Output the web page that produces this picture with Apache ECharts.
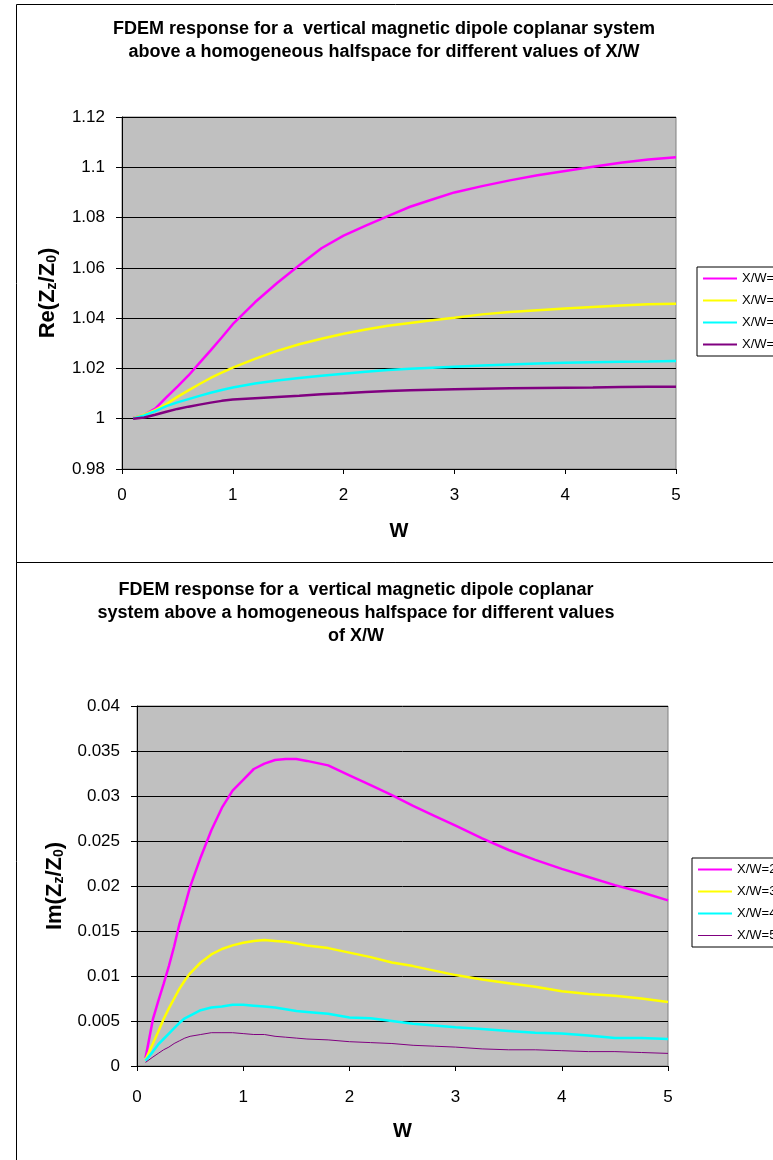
<!DOCTYPE html>
<html>
<head>
<meta charset="utf-8">
<script src="https://cdn.jsdelivr.net/npm/echarts@6/dist/echarts.min.js"></script>
<style>
  html, body { margin: 0; padding: 0; background: #fff; }
  #chart { width: 773px; height: 1160px; }
</style>
</head>
<body>
<div id="chart"></div>
<script>
// FDEM response of a vertical magnetic dipole, coplanar coil system,
// over a homogeneous halfspace: real (top) and imaginary (bottom) parts.

const seriesNames = ['X/W=2', 'X/W=3', 'X/W=4', 'X/W=5'];

// Real part Re(Zz/Z0) versus W
const reW = [0.1, 0.2, 0.3, 0.4, 0.5, 0.6, 0.7, 0.8, 0.9, 1.0, 1.2, 1.4, 1.6, 1.8, 2.0,
             2.2, 2.4, 2.6, 2.8, 3.0, 3.25, 3.5, 3.75, 4.0, 4.25, 4.5, 4.75, 5.0];
const reXW2 = [1.0003, 1.0015, 1.0040, 1.0085, 1.0128, 1.0172, 1.0222, 1.0272, 1.0323, 1.0376,
               1.0463, 1.0540, 1.0610, 1.0678, 1.0728, 1.0768, 1.0806, 1.0843, 1.0872, 1.0900,
               1.0925, 1.0948, 1.0968, 1.0985, 1.1002, 1.1018, 1.1031, 1.1040];
const reXW3 = [1.0002, 1.0016, 1.0034, 1.0058, 1.0087, 1.0113, 1.0138, 1.0162, 1.0183, 1.0203,
               1.0238, 1.0270, 1.0296, 1.0318, 1.0338, 1.0355, 1.0370, 1.0381, 1.0392, 1.0402,
               1.0415, 1.0424, 1.0431, 1.0438, 1.0444, 1.0450, 1.0455, 1.0457];
const reXW4 = [1.0001, 1.0013, 1.0030, 1.0050, 1.0065, 1.0078, 1.0091, 1.0103, 1.0114, 1.0124,
               1.0140, 1.0152, 1.0162, 1.0171, 1.0179, 1.0187, 1.0194, 1.0199, 1.0203, 1.0207,
               1.0212, 1.0216, 1.0220, 1.0223, 1.0225, 1.0227, 1.0228, 1.0230];
const reXW5 = [1.0000, 1.0005, 1.0016, 1.0028, 1.0039, 1.0048, 1.0056, 1.0064, 1.0071, 1.0076,
               1.0081, 1.0086, 1.0091, 1.0097, 1.0101, 1.0106, 1.0110, 1.0113, 1.0115, 1.0117,
               1.0119, 1.0121, 1.0122, 1.0123, 1.0124, 1.0126, 1.0127, 1.0127];

// Imaginary part Im(Zz/Z0) versus W
const imW = [0.08, 0.15, 0.2, 0.25, 0.3, 0.35, 0.4, 0.45, 0.5, 0.6, 0.7, 0.8, 0.9, 1.0, 1.1,
             1.2, 1.3, 1.4, 1.5, 1.6, 1.8, 2.0, 2.2, 2.4, 2.6, 2.8, 3.0, 3.25, 3.5, 3.75,
             4.0, 4.25, 4.5, 4.75, 5.0];
const imXW2 = [0.0009, 0.0052, 0.0072, 0.0091, 0.0111, 0.0133, 0.0158, 0.0178, 0.0199, 0.0232,
               0.0262, 0.0287, 0.0306, 0.0318, 0.0330, 0.0336, 0.0340, 0.0341, 0.0341, 0.0339,
               0.0334, 0.0323, 0.0312, 0.0301, 0.0289, 0.0278, 0.0267, 0.0253, 0.0240, 0.0229,
               0.0219, 0.0210, 0.0201, 0.0193, 0.0184];
const imXW3 = [0.0007, 0.0025, 0.0038, 0.0052, 0.0064, 0.0075, 0.0086, 0.0095, 0.0103, 0.0115,
               0.0124, 0.0130, 0.0134, 0.0137, 0.0139, 0.0140, 0.0139, 0.0138, 0.0136, 0.0134,
               0.0131, 0.0126, 0.0121, 0.0115, 0.0111, 0.0106, 0.0101, 0.0096, 0.0092, 0.0088,
               0.0083, 0.0080, 0.0078, 0.0075, 0.0071];
const imXW4 = [0.0006, 0.0016, 0.0024, 0.0030, 0.0036, 0.0042, 0.0048, 0.0053, 0.0056, 0.0062,
               0.0065, 0.0066, 0.0068, 0.0068, 0.0067, 0.0066, 0.0065, 0.0063, 0.0061, 0.0060,
               0.0058, 0.0054, 0.0053, 0.0050, 0.0047, 0.0045, 0.0043, 0.0041, 0.0039, 0.0037,
               0.0036, 0.0034, 0.0031, 0.0031, 0.0030];
const imXW5 = [0.0004, 0.0010, 0.0014, 0.0018, 0.0021, 0.0025, 0.0028, 0.0031, 0.0033, 0.0035,
               0.0037, 0.0037, 0.0037, 0.0036, 0.0035, 0.0035, 0.0033, 0.0032, 0.0031, 0.0030,
               0.0029, 0.0027, 0.0026, 0.0025, 0.0023, 0.0022, 0.0021, 0.0019, 0.0018, 0.0018,
               0.0017, 0.0016, 0.0016, 0.0015, 0.0014];

// Axis ranges: [min, max, step]
const wAxis = [0, 5, 1];
const reAxis = [0.98, 1.12, 0.02];
const imAxis = [0, 0.04, 0.005];

const titleTop = 'FDEM response for a  vertical magnetic dipole coplanar system\nabove a homogeneous halfspace for different values of X/W';
const titleBottom = 'FDEM response for a  vertical magnetic dipole coplanar\nsystem above a homogeneous halfspace for different values\nof X/W';

const FONT = '"Liberation Sans", Arial, Helvetica, sans-serif';
const colors = ['#FF00FF', '#FFFF00', '#00FFFF', '#800080'];

const pairs = (xs, ys) => xs.map((x, i) => [x, ys[i]]);

function makeSeries(names, xs, ysList, axisIdx, widths) {
  return names.map((n, k) => ({
    name: n,
    type: 'line',
    xAxisIndex: axisIdx,
    yAxisIndex: axisIdx,
    data: pairs(xs, ysList[k]),
    symbol: 'none',
    showSymbol: false,
    smooth: false,
    lineStyle: { color: colors[k], width: widths[k] },
    itemStyle: { color: colors[k] },
    z: 3 + k
  }));
}

function xAxisDef(gridIndex, labelMargin, nameGap) {
  return {
    type: 'value', gridIndex,
    min: wAxis[0], max: wAxis[1], interval: wAxis[2],
    name: 'W', nameLocation: 'middle', nameGap,
    nameTextStyle: { fontFamily: FONT, fontSize: 20, fontWeight: 'bold', color: '#000' },
    axisLine: { show: true, onZero: false, lineStyle: { color: '#000', width: 1 } },
    axisTick: { show: true, inside: false, length: 5, lineStyle: { color: '#000' } },
    axisLabel: { fontFamily: FONT, fontSize: 17, color: '#000', margin: labelMargin },
    splitLine: { show: false }
  };
}

function yAxisDef(gridIndex, range, label, nameGap) {
  return {
    type: 'value', gridIndex,
    min: range[0], max: range[1], interval: range[2],
    name: label, nameLocation: 'middle', nameGap, nameRotate: 90,
    nameTextStyle: {
      color: '#000',
      rich: {
        m: { fontFamily: FONT, fontSize: 22, fontWeight: 'bold', color: '#000', lineHeight: 26, verticalAlign: 'bottom' },
        s: { fontFamily: FONT, fontSize: 14, fontWeight: 'bold', color: '#000', lineHeight: 12, verticalAlign: 'bottom' }
      }
    },
    axisLine: { show: true, onZero: false, lineStyle: { color: '#000', width: 1 } },
    axisTick: { show: true, inside: false, length: 6, lineStyle: { color: '#000' } },
    axisLabel: { fontFamily: FONT, fontSize: 17, color: '#000', margin: 17 },
    splitLine: { show: true, lineStyle: { color: '#000', width: 1 } }
  };
}

// Legend keys are plain line segments (no marker dot).
function legendDef(left, top, lastWidth) {
  return {
    orient: 'vertical', left, top,
    data: seriesNames.map((n, k) => (k === 3 && lastWidth ? { name: n, lineStyle: { width: lastWidth } } : n)),
    itemWidth: 34, itemHeight: 14, itemGap: 9,
    itemStyle: { opacity: 0, borderWidth: 0 },
    padding: [5, 12, 5, 5],
    borderColor: '#000', borderWidth: 1, backgroundColor: '#fff',
    textStyle: { fontFamily: FONT, fontSize: 13, color: '#000' },
    selectedMode: false
  };
}

const chart = echarts.init(document.getElementById('chart'), null, { renderer: 'canvas' });

chart.setOption({
  animation: false,
  backgroundColor: '#fff',
  title: [
    { text: titleTop, left: 379, top: 13, textAlign: 'center',
      textStyle: { fontFamily: FONT, fontSize: 18, fontWeight: 'bold', color: '#000', lineHeight: 23 } },
    { text: titleBottom, left: 351, top: 574, textAlign: 'center',
      textStyle: { fontFamily: FONT, fontSize: 18, fontWeight: 'bold', color: '#000', lineHeight: 23 } }
  ],
  legend: [legendDef(697, 267, null), legendDef(692, 858, 1)],
  grid: [
    { left: 122, top: 117, width: 554, height: 352, show: true,
      backgroundColor: '#C0C0C0', borderColor: '#808080', borderWidth: 1 },
    { left: 137, top: 706, width: 531, height: 360, show: true,
      backgroundColor: '#C0C0C0', borderColor: '#808080', borderWidth: 1 }
  ],
  xAxis: [xAxisDef(0, 18, 52), xAxisDef(1, 23, 55)],
  yAxis: [
    yAxisDef(0, reAxis, '{m|Re(Z}{s|z}{m|/Z}{s|0}{m|)}', 63),
    yAxisDef(1, imAxis, '{m|Im(Z}{s|z}{m|/Z}{s|0}{m|)}', 71)
  ],
  graphic: [
    { type: 'rect', silent: true, z: -10,
      shape: { x: 16.5, y: 4.5, width: 800, height: 558 },
      style: { fill: 'none', stroke: '#000', lineWidth: 1 } },
    { type: 'rect', silent: true, z: -10,
      shape: { x: 16.5, y: 562.5, width: 800, height: 700 },
      style: { fill: 'none', stroke: '#000', lineWidth: 1 } }
  ],
  series: [
    ...makeSeries(seriesNames, reW, [reXW2, reXW3, reXW4, reXW5], 0, [2.5, 2.5, 2.5, 2.5]),
    ...makeSeries(seriesNames, imW, [imXW2, imXW3, imXW4, imXW5], 1, [2.5, 2.5, 2.5, 1])
  ]
});
</script>
</body>
</html>
